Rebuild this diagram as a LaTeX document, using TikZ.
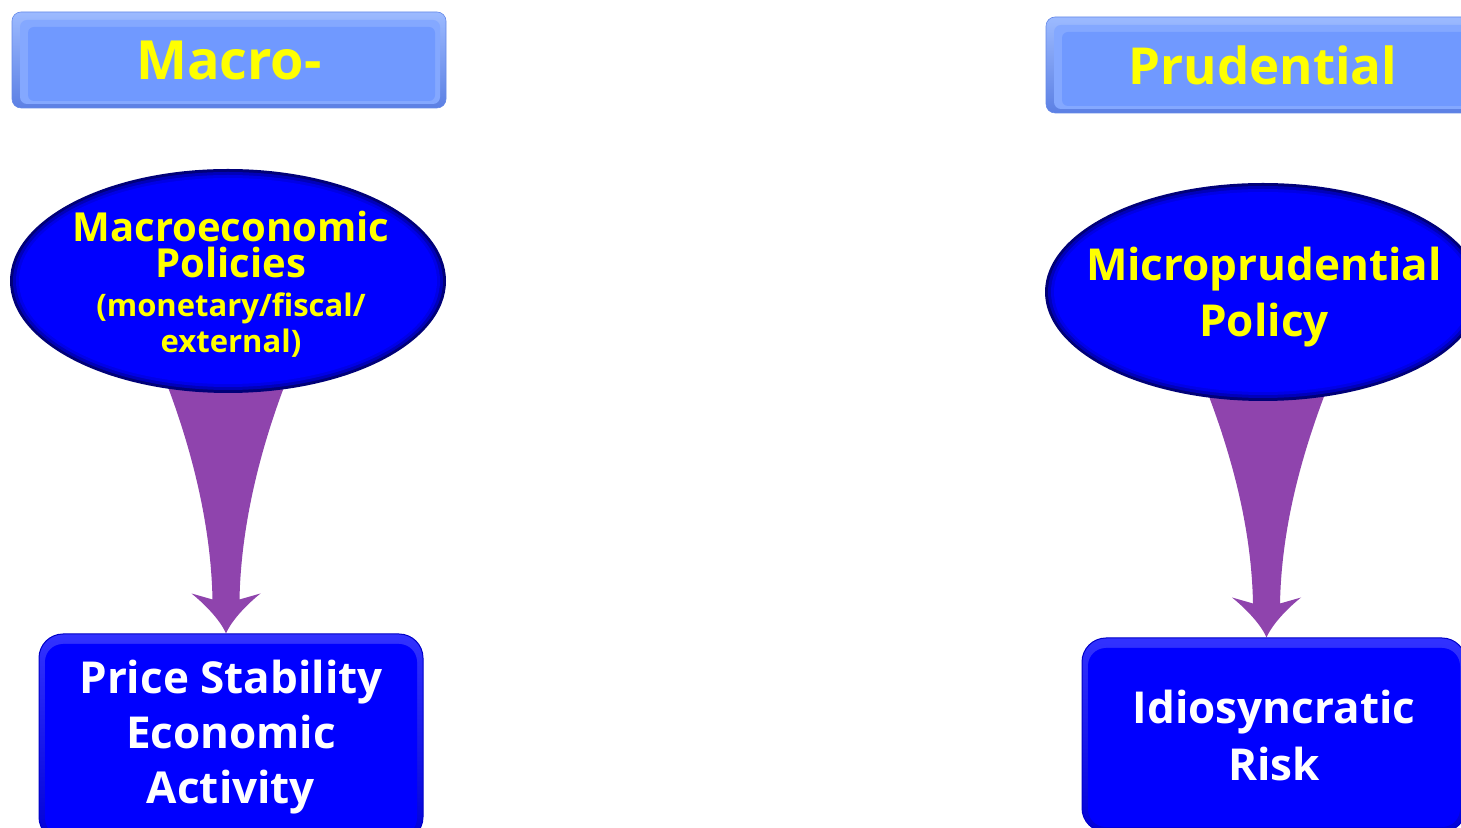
\documentclass[tikz,border=0pt]{standalone}
\usepackage{fontspec}
\setmainfont{Open Sans}
\usetikzlibrary{calc,shapes.geometric,backgrounds}

\definecolor{hdrblue}{RGB}{112,153,255}
\definecolor{hdrtop}{RGB}{156,186,255}
\definecolor{hdrbot}{RGB}{92,128,228}
\definecolor{hdredge}{RGB}{100,136,232}
\definecolor{deepblue}{RGB}{0,0,255}
\definecolor{rimA}{RGB}{0,0,120}
\definecolor{rimB}{RGB}{0,0,185}
\definecolor{rimC}{RGB}{0,0,230}
\definecolor{boxhi}{RGB}{50,50,255}
\definecolor{boxlo}{RGB}{0,0,215}
\definecolor{boxrim}{RGB}{0,0,200}
\definecolor{flowpurple}{RGB}{143,68,173}
\definecolor{labelyellow}{RGB}{255,255,0}

% tapered arrow: #1 source node, #2 target node, #3 axis x
\newcommand{\flowarrow}[3]{%
  \fill[flowpurple] let \p1=(#1.south), \p2=(#2.north) in
    ({#3-58pt},{\y1+6pt})
      .. controls ({#3-35pt},{\y1-55pt}) and ({#3-15pt},{\y2+110pt}) .. ({#3-13.5pt},{\y2+34pt})
      -- ({#3-34.5pt},{\y2+40pt})
      .. controls ({#3-22pt},{\y2+30pt}) and ({#3-6pt},{\y2+14pt}) .. ({#3},{\y2})
      .. controls ({#3+6pt},{\y2+14pt}) and ({#3+22pt},{\y2+30pt}) .. ({#3+34.5pt},{\y2+40pt})
      -- ({#3+13.5pt},{\y2+34pt})
      .. controls ({#3+15pt},{\y2+110pt}) and ({#3+35pt},{\y1-55pt}) .. ({#3+58pt},{\y1+6pt})
      -- cycle;}

\begin{document}
\begin{tikzpicture}[x=1pt,y=1pt,
  header/.style={rectangle, rounded corners=9pt, minimum width=434pt,
    minimum height=96pt, inner sep=0pt, top color=hdrtop, bottom color=hdrbot,
    draw=hdredge, line width=0.6pt, text=labelyellow,
    path picture={
      \fill[hdrblue!55!hdrtop, rounded corners=7pt]
        ([xshift=8pt,yshift=4pt]path picture bounding box.south west) rectangle
        ([xshift=-6pt,yshift=-8pt]path picture bounding box.north east);
      \fill[hdrblue, rounded corners=6pt]
        ([xshift=16pt,yshift=7pt]path picture bounding box.south west) rectangle
        ([xshift=-11pt,yshift=-15pt]path picture bounding box.north east);}},
  bubble/.style={ellipse, inner sep=0pt, fill=rimA,
    path picture={
      \path let \p1=(path picture bounding box.north east),
                \p2=(path picture bounding box.center) in
        [fill=rimB] (\p2) ellipse [x radius={\x1-\x2-3pt}, y radius={\y1-\y2-3pt}];
      \path let \p1=(path picture bounding box.north east),
                \p2=(path picture bounding box.center) in
        [fill=rimC] (\p2) ellipse [x radius={\x1-\x2-6pt}, y radius={\y1-\y2-6pt}];
      \path let \p1=(path picture bounding box.north east),
                \p2=(path picture bounding box.center) in
        [fill=deepblue] (\p2) ellipse [x radius={\x1-\x2-9pt}, y radius={\y1-\y2-9pt}];}},
  bubbletext/.style={inner sep=0pt, align=center, text=labelyellow},
  resultbox/.style={rectangle, rounded corners=24pt, minimum width=384pt,
    inner sep=0pt, top color=boxhi, bottom color=boxlo, draw=boxrim,
    line width=1pt, text=white, align=center,
    font=\bfseries\fontsize{44}{55}\selectfont,
    path picture={\fill[deepblue, rounded corners=18pt]
      ([xshift=6pt,yshift=5pt]path picture bounding box.south west) rectangle
      ([xshift=-6pt,yshift=-10pt]path picture bounding box.north east);}}
]
\useasboundingbox (0,0) rectangle (1461,827);
\clip (0,0) rectangle (1461,827);

% headers
\node[header, font=\bfseries\fontsize{54}{60}\selectfont] (hdrL) at (229,767) {Macro-};
\node[header, font=\bfseries\fontsize{51}{60}\selectfont] (hdrR) at (1263,762) {Prudential};

% policy bubbles
\node[bubble, minimum width=436pt, minimum height=224pt] (ellL) at (228,546) {};
\node[bubbletext, font=\bfseries\fontsize{40}{36}\selectfont] (ellLtext) at (231,543)
  {Macroeconomic\\Policies\\[3pt]\fontsize{31}{33}\selectfont (monetary/fiscal/\\
   \fontsize{31}{33}\selectfont external)};
\node[bubble, minimum width=436pt, minimum height=218pt] (ellR) at (1263,535) {};
\node[bubbletext, font=\bfseries\fontsize{44}{56}\selectfont] (ellRtext) at (1264,530)
  {Microprudential\\Policy};

% outcome boxes
\node[resultbox, minimum height=207pt] (boxL) at (231,89.5)
  {Price Stability\\Economic\\Activity};
\node[resultbox, minimum height=194pt, text depth=0pt] (boxR) at (1274,92)
  {Idiosyncratic\\[2pt]Risk};

% white page and the arrows, behind the bubbles
\begin{pgfonlayer}{background}
  \fill[white] (0,0) rectangle (1461,827);
  \flowarrow{ellL}{boxL}{226pt}
  \flowarrow{ellR}{boxR}{1266.5pt}
\end{pgfonlayer}
\end{tikzpicture}
\end{document}
